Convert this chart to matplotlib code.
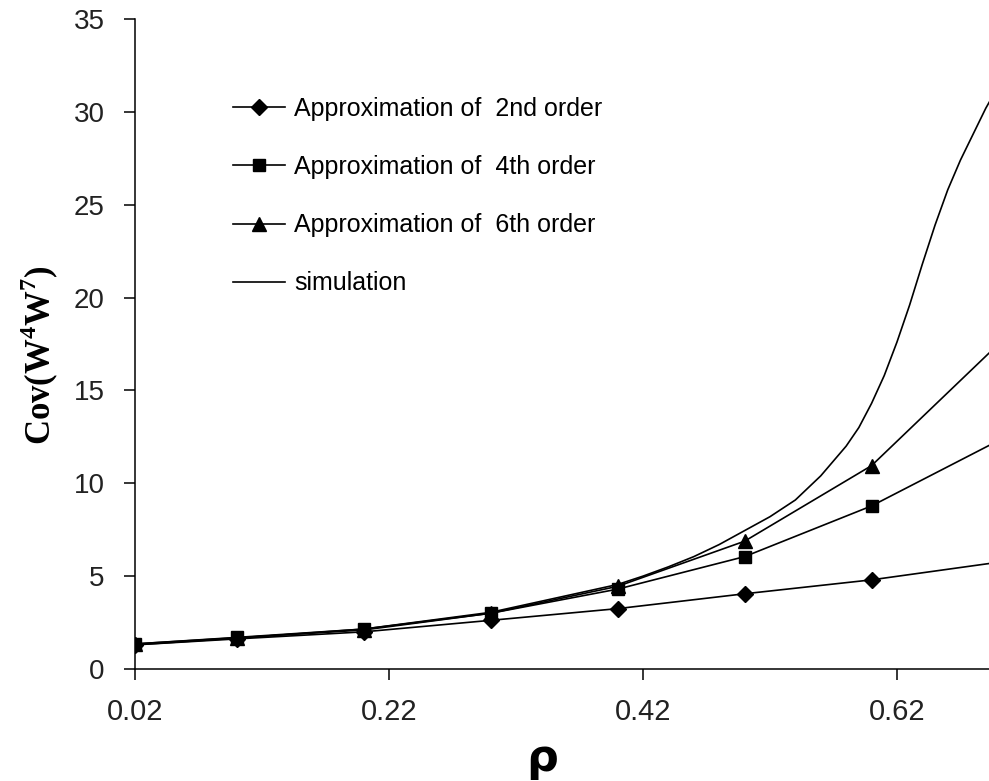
import matplotlib
matplotlib.use("Agg")
import matplotlib.pyplot as plt

plt.rcParams['font.family'] = ['Liberation Sans', 'DejaVu Sans']
plt.rcParams['mathtext.fontset'] = 'custom'
plt.rcParams['mathtext.rm'] = 'Liberation Serif:bold'
plt.rcParams['mathtext.bf'] = 'Liberation Serif:bold'

# values
rho = [0.02, 0.1, 0.2, 0.3, 0.4, 0.5, 0.6, 0.7]
order2 = [1.30, 1.62, 2.00, 2.62, 3.25, 4.05, 4.80, 5.75]
order4 = [1.35, 1.70, 2.15, 3.00, 4.30, 6.05, 8.78, 12.3]
order6 = [1.35, 1.68, 2.10, 3.00, 4.45, 6.88, 10.95, 17.5]

rho_sim = [0.02, 0.1, 0.2, 0.3, 0.4, 0.42, 0.44, 0.46, 0.48, 0.5, 0.52,
           0.54, 0.56, 0.58, 0.59, 0.6, 0.61, 0.62, 0.63, 0.64, 0.65,
           0.66, 0.67, 0.68, 0.69, 0.7]
simulation = [1.30, 1.66, 2.15, 3.05, 4.55, 5.0, 5.5, 6.05, 6.7, 7.45, 8.2,
              9.1, 10.4, 12.0, 13.0, 14.3, 15.8, 17.6, 19.6, 21.8, 23.9,
              25.8, 27.4, 28.8, 30.2, 31.4]

xticks = [0.02, 0.22, 0.42, 0.62]
yticks = [0, 5, 10, 15, 20, 25, 30, 35]

fig = plt.figure(figsize=(9.89, 7.81), dpi=100)
ax = fig.add_axes([135/989, 112/781, 854/989, 650/781])

lw = 1.2
ax.plot(rho, order2, color='black', lw=lw, marker='D', ms=8,
        label='Approximation of  2nd order')
ax.plot(rho, order4, color='black', lw=lw, marker='s', ms=9,
        label='Approximation of  4th order')
ax.plot(rho, order6, color='black', lw=lw, marker='^', ms=10,
        label='Approximation of  6th order')
ax.plot(rho_sim, simulation, color='black', lw=lw, label='simulation')

ax.set_xlim(0.02, 0.6925)
ax.set_ylim(0, 35)
ax.set_xticks(xticks)
ax.set_xticklabels([f'{t:.2f}' for t in xticks])
ax.set_yticks(yticks)

for s in ['top', 'right']:
    ax.spines[s].set_visible(False)
for s in ['left', 'bottom']:
    ax.spines[s].set_linewidth(1.1)
ax.tick_params(axis='both', direction='out', length=8, width=1.1, color='black')
ax.tick_params(axis='x', labelsize=21, pad=13, labelcolor='#222222')
ax.tick_params(axis='y', labelsize=20, pad=14, labelcolor='#222222')

leg = ax.legend(loc='upper left', bbox_to_anchor=(0.088, 0.915), frameon=False,
                fontsize=18, handlelength=2.1, handletextpad=0.36,
                labelspacing=1.37)

fig.text(542/989, 23/781, 'ρ', fontsize=32, fontweight='bold',
         family='DejaVu Sans', ha='center', va='center')
fig.text(40/989, 1 - 355/781, r'Cov(W$^4$W$^7$)', fontsize=25,
         family='Liberation Serif', fontweight='bold', rotation=90,
         ha='center', va='center')

fig.savefig('out.png', dpi=100)
